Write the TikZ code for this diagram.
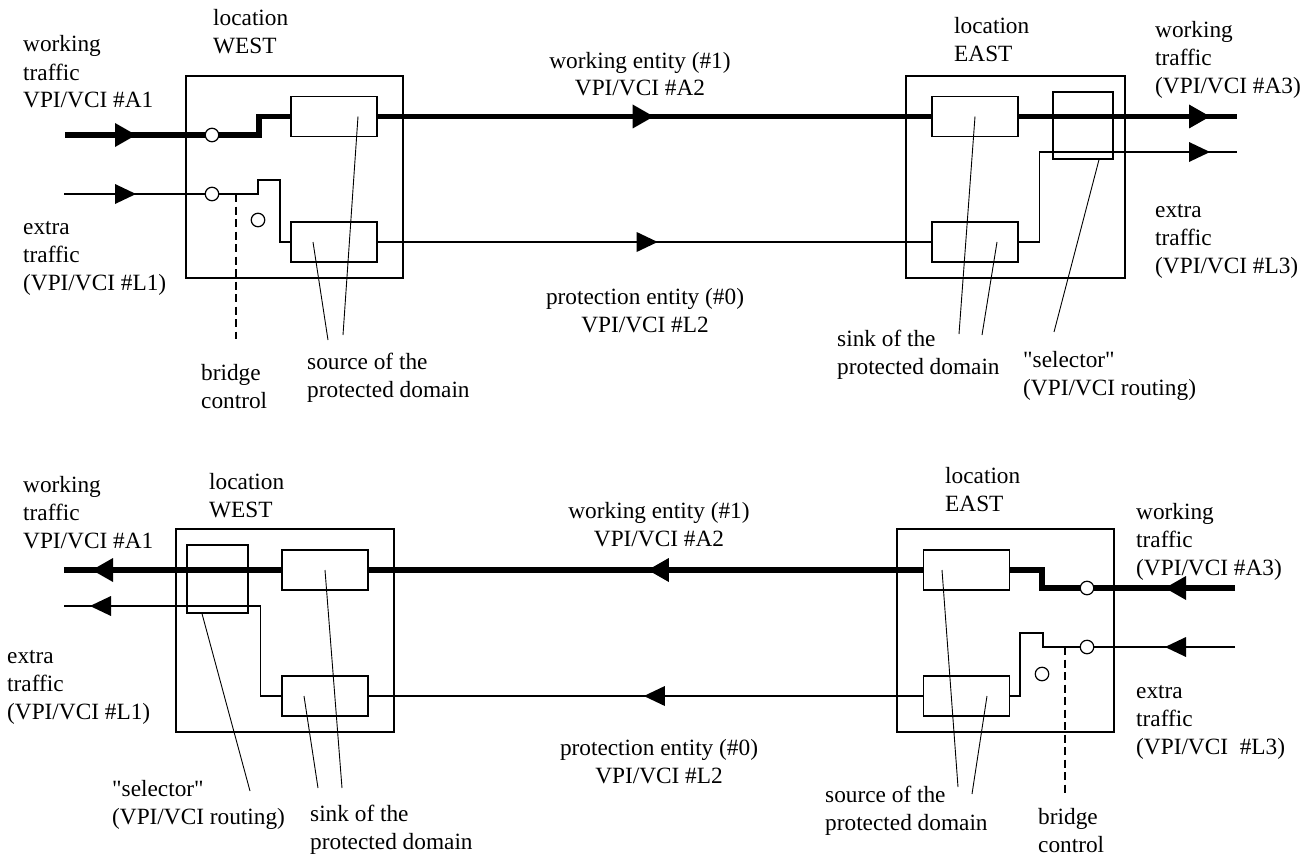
\documentclass[tikz,border=0pt]{standalone}
\usepackage{fontspec}
\setmainfont{Liberation Serif}
\usetikzlibrary{arrows.meta,decorations.markings}

\tikzset{
  site/.style={draw,line width=1.3pt,inner sep=0pt},
  unit/.style={draw,line width=1.3pt,inner sep=0pt,minimum width=86pt,minimum height=40pt},
  sel/.style={draw,line width=1.3pt,inner sep=0pt,minimum width=60pt,minimum height=67pt},
  sw/.style={circle,draw,fill=white,line width=1.2pt,inner sep=0pt,minimum size=13.5pt},
  work/.style={line width=5.8pt},
  extra/.style={line width=1.3pt},
  lead/.style={line width=0.9pt},
  ctrl/.style={line width=2pt,dash pattern=on 8pt off 4.5pt},
  txt/.style={align=left,inner sep=0pt,anchor=base west},
  ctxt/.style={align=center,inner sep=0pt,anchor=base},
  wtip/.style={postaction=decorate,decoration={markings,
    mark=at position #1 with {\arrow{Triangle[length=21pt,width=24pt,line width=0pt]}}}},
  xtip/.style={postaction=decorate,decoration={markings,
    mark=at position #1 with {\arrow{Triangle[length=21pt,width=20pt,line width=0pt]}}}}
}

\begin{document}
\begin{tikzpicture}[x=1pt,y=-1pt,font=\fontsize{23.3}{28}\selectfont]
  \useasboundingbox (0,0) rectangle (1316,856);

  % ---------- upper diagram ----------
  % location WEST
  \node[site,minimum width=217pt,minimum height=202pt] (tw) at (294.5,177) {};
  \node[unit] (tw-src1) at (334,116.5) {};
  \node[unit] (tw-src0) at (334,242) {};
  \node[sw] (tw-sw1) at (212,135) {};
  \node[sw] (tw-sw0) at (212,194) {};
  \node[sw] (tw-open) at (258,220) {};
  \coordinate (tw-in1) at (65,135);
  \coordinate (tw-in0) at (64,194);
  % location EAST
  \node[site,minimum width=219pt,minimum height=202pt] (te) at (1015.5,177) {};
  \node[unit] (te-snk1) at (975,116.5) {};
  \node[unit] (te-snk0) at (975,242) {};
  \node[sel] (te-sel) at (1083,125.5) {};
  \coordinate (te-out1) at (1237,116.5);
  \coordinate (te-out0) at (1237,152);

  % traffic
  \draw[work,wtip=71pt] (tw-in1) -- (tw-sw1);
  \draw[work] (tw-sw1) -- ++(47,0) |- (tw-src1);
  \draw[work,wtip=276pt] (tw-src1) -- (te-snk1);
  \draw[work,wtip=-27pt] (te-snk1) -- (te-out1);
  \draw[extra,xtip=72pt] (tw-in0) -- (tw-sw0);
  \draw[extra] (tw-sw0) -- ++(24,0) coordinate (tw-br) -- ++(22,0) |- ++(22,-14) |- (tw-src0);
  \draw[extra,xtip=280pt] (tw-src0) -- (te-snk0);
  \draw[extra,xtip=-27pt] (te-snk0.east) -- ++(21,0) |- (te-out0);
  \draw[ctrl] (tw-br) -- ++(0,145);

  % labels (base = last line)
  \node[txt] (tw-loc) at (213,54) {location\\WEST};
  \node[txt] (tw-wt) at (23,108) {working\\traffic\\VPI/VCI \#A1};
  \node[txt] (tw-xt) at (23,290) {extra\\traffic\\(VPI/VCI \#L1)};
  \node[txt] (tw-bc) at (201,408) {bridge\\control};
  \node[txt] (tw-src) at (307,397) {source of the\\protected domain};
  \node[ctxt] (top-w) at (640,96) {working entity (\#1)\\VPI/VCI \#A2};
  \node[ctxt] (top-p) at (645,332) {protection entity (\#0)\\VPI/VCI \#L2};
  \node[txt] (te-loc) at (954,62) {location\\EAST};
  \node[txt] (te-wt) at (1155,94) {working\\traffic\\(VPI/VCI \#A3)};
  \node[txt] (te-xt) at (1155,273) {extra\\traffic\\(VPI/VCI \#L3)};
  \node[txt] (te-snk) at (837,374) {sink of the\\protected domain};
  \node[txt] (te-sl) at (1023,395) {\textquotedbl selector\textquotedbl\\(VPI/VCI routing)};

  % leaders
  \coordinate (tw-l1) at (343,335);
  \coordinate (tw-l0) at (328,340);
  \coordinate (te-l1) at (959,334);
  \coordinate (te-l0) at (982,335);
  \coordinate (te-ls) at (1054,332);
  \draw[lead] ([xshift=24pt]tw-src1.center) -- (tw-l1);
  \draw[lead] ([xshift=-21pt]tw-src0.center) -- (tw-l0);
  \draw[lead] (te-snk1.center) -- (te-l1);
  \draw[lead] ([xshift=22pt]te-snk0.center) -- (te-l0);
  \draw[lead] ([xshift=16pt]te-sel.south) -- (te-ls);

  % ---------- lower diagram ----------
  % location WEST
  \node[site,minimum width=218pt,minimum height=203pt] (bw) at (285,630.5) {};
  \node[sel,minimum width=61pt,minimum height=68pt] (bw-sel) at (217.5,579) {};
  \node[unit] (bw-snk1) at (325,570) {};
  \node[unit] (bw-snk0) at (325,696) {};
  \coordinate (bw-out1) at (64,570);
  \coordinate (bw-out0) at (64,606);
  % location EAST
  \node[site,minimum width=217pt,minimum height=203pt] (be) at (1005.5,630.5) {};
  \node[unit] (be-src1) at (966.5,570) {};
  \node[unit] (be-src0) at (966.5,696) {};
  \node[sw] (be-sw1) at (1087,588) {};
  \node[sw] (be-sw0) at (1087,647) {};
  \node[sw] (be-open) at (1042,674) {};
  \coordinate (be-in1) at (1235,588);
  \coordinate (be-in0) at (1235,647);

  % traffic
  \draw[work,wtip=70pt] (be-in1) -- (be-sw1);
  \draw[work] (be-sw1) -- ++(-45,0) |- (be-src1);
  \draw[work,wtip=275pt] (be-src1) -- (bw-snk1);
  \draw[work,wtip=-28pt] (bw-snk1) -- (bw-out1);
  \draw[extra,xtip=70pt] (be-in0) -- (be-sw0);
  \draw[extra] (be-sw0) -- ++(-22,0) coordinate (be-br) -- ++(-22,0) |- ++(-23,-14) |- (be-src0);
  \draw[extra,xtip=279pt] (be-src0) -- (bw-snk0);
  \draw[extra,xtip=-26pt] (bw-snk0.west) -- ++(-21,0) |- (bw-out0);
  \draw[ctrl] (be-br) -- ++(0,147);

  % labels (base = last line)
  \node[txt] (bw-loc) at (209,517) {location\\WEST};
  \node[txt] (bw-wt) at (23,548) {working\\traffic\\VPI/VCI \#A1};
  \node[txt] (bw-xt) at (7,719) {extra\\traffic\\(VPI/VCI \#L1)};
  \node[txt] (bw-sl) at (112,824) {\textquotedbl selector\textquotedbl\\(VPI/VCI routing)};
  \node[txt] (bw-snk) at (310,849) {sink of the\\protected domain};
  \node[ctxt] (bot-w) at (659,546) {working entity (\#1)\\VPI/VCI \#A2};
  \node[ctxt] (bot-p) at (659,783) {protection entity (\#0)\\VPI/VCI \#L2};
  \node[txt] (be-loc) at (945,511) {location\\EAST};
  \node[txt] (be-wt) at (1136,575) {working\\traffic\\(VPI/VCI \#A3)};
  \node[txt] (be-xt) at (1136,754) {extra\\traffic\\(VPI/VCI\ \ \#L3)};
  \node[txt] (be-src) at (825,830) {source of the\\protected domain};
  \node[txt] (be-bc) at (1038,852) {bridge\\control};

  % leaders
  \coordinate (bw-ls) at (250,791);
  \coordinate (bw-l1) at (342,788);
  \coordinate (bw-l0) at (318,788);
  \coordinate (be-l1) at (958,787);
  \coordinate (be-l0) at (972,794);
  \draw[lead] ([xshift=-15.5pt]bw-sel.south) -- (bw-ls);
  \draw[lead] (bw-snk1.center) -- (bw-l1);
  \draw[lead] ([xshift=-21pt]bw-snk0.center) -- (bw-l0);
  \draw[lead] ([xshift=-24.5pt]be-src1.center) -- (be-l1);
  \draw[lead] ([xshift=20.5pt]be-src0.center) -- (be-l0);
\end{tikzpicture}
\end{document}
